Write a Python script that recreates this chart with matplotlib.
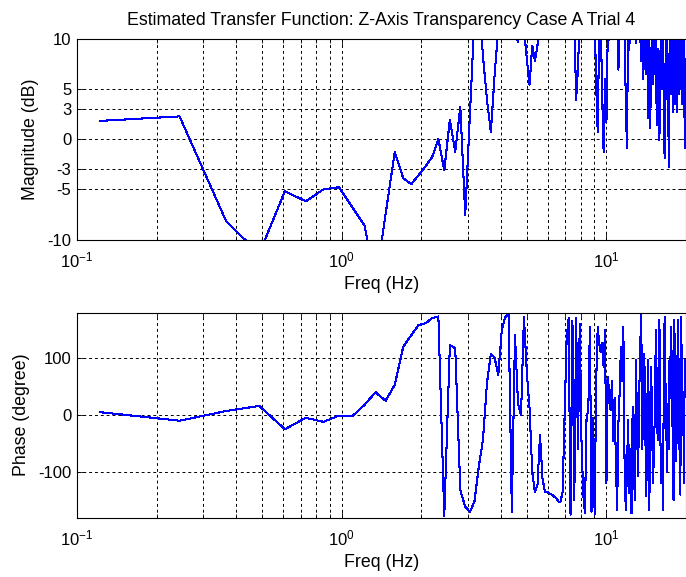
import numpy as np
import matplotlib
matplotlib.use("Agg")
import matplotlib.pyplot as plt
from matplotlib.ticker import FixedLocator, LogLocator, NullFormatter

plt.rcParams['font.family'] = ['Liberation Sans', 'DejaVu Sans']
plt.rcParams['mathtext.fontset'] = 'custom'
plt.rcParams['mathtext.rm'] = 'Liberation Sans'
plt.rcParams['mathtext.it'] = 'Liberation Sans'

# FFT bin spacing (Hz) and bin indices 1..163
freq_step = 0.12207
bin_index = np.arange(1, 164)

magnitude_db = [
    1.8, 2.25, -8.2, -11.4, -5.2, -6.2, -5.0, -4.8, -6.8, -8.6,
    -14.5, -7.5, -1.3, -3.9, -4.5, -3.6, -2.7, -1.8, 0.0, -3.1,
    1.9, -1.3, 3.2, -7.6, 2.5, 12, 14, 8.3, 3.9, 0.7,
    6.4, 11, 13, 15, 12, 14, 11, 9.6, 12, 11,
    8.0, 5.4, 9.3, 7.8, 9.3, 12, 14, 16, 13, 15,
    17, 14, 12, 15, 13, 16, 14, 12, 15, 13,
    11, 12, 3.9, 7.0, 12, 14, 13, 15, 12, 14,
    16, 13, 11, 12, 5.4, 0.7, 11, 12, 4.4, -1.3,
    6, 1.7, 11, 9.8, 13, 12, 14, 11, 13, 12,
    6.9, 11, 13, 12, 14, 11, 4.0, -0.9, 11, 8.9,
    12, 11, 13, 10.5, 12, 9.5, 12, 11, 13, 10.4,
    7.8, 12, 6, 11, 12, 6.5, 11, 2.1, 10.5, 1.1,
    8, 11, 5.5, 12, 6.5, 11, 1.4, 9, 4.5, -0.1,
    8, 11, 5, 12, 3.5, -1.9, 7, 12, 4, 8.5,
    -2.8, 6, 11, 4.5, 12, 2.7, 7.5, 11, 3.5, 12,
    2.7, 7, 11, 4.5, 12, 5, 11, 3.5, 12, 5,
    11, -0.9, 8,
]

phase_deg = [
    5, -10, 7, 16, -25, -5, -12, -1, -2, 18,
    40, 25, 53, 120, 140, 158, 161, 170, 173, -178,
    123, 117, -132, -161, -170, -152, -91, -44, 56, 108,
    100, 70, 150, 172, 178, -170, 140, 20, 0, 172,
    76, 12, -100, -135, -123, -35, -111, -135, -135, -138,
    -140, -143, -146, -152, -152, -135, 0, 135, 170, -175,
    165, -150, 170, -60, 160, -45, -140, -172, 0, 5,
    155, -170, -5, -175, 60, 155, 126, 110, 126, 85,
    150, -120, 67, 38, 9, 60, -45, 30, -80, -167,
    -15, 40, 120, 60, 155, -85, -167, -100, -9, -137,
    -60, -173, 15, -90, -150, 97, -20, -108, 30, 120,
    178, -60, 26, 108, -30, -143, 20, 97, -167, -40,
    85, -20, -120, -60, 9, 150, 60, -44, 80, 167,
    -30, -120, -60, -167, 40, 172, 60, -26, -100, 20,
    -60, 102, 30, 155, 50, -50, -150, 167, 60, -80,
    -44, 90, 167, 20, -73, -140, 172, 80, -30, 9,
    -120, 97, 40,
]

title_text = "Estimated Transfer Function: Z-Axis Transparency Case A Trial 4"
mag_yticks = [-10, -5, -3, 0, 3, 5, 10]
phase_yticks = [-100, 0, 100]

freqs = bin_index * freq_step

fig = plt.figure(figsize=(6.86, 5.77), dpi=100)
W, H = 686, 577
ax1 = fig.add_axes([77 / W, 1 - 239.5 / H, 609 / W, 201 / H])
ax2 = fig.add_axes([77 / W, 1 - 517.5 / H, 609 / W, 205 / H])

line_color = (0, 0, 1)
FS = 12
LFS = 12.8

def style(ax):
    ax.set_xscale('log')
    ax.set_xlim(0.1, 20)
    ax.xaxis.set_major_locator(FixedLocator([0.1, 1, 10]))
    ax.xaxis.set_minor_locator(LogLocator(base=10, subs=np.arange(2, 10), numticks=20))
    ax.xaxis.set_minor_formatter(NullFormatter())
    ax.tick_params(which='both', direction='in', top=True, right=True,
                   labelsize=FS, colors='black', width=0.6)
    ax.tick_params(which='major', length=5)
    ax.tick_params(which='minor', length=3)
    ax.tick_params(axis='x', which='major', pad=8)
    ax.tick_params(axis='y', which='major', pad=4)
    ax.grid(True, which='both', axis='x', color='black', linestyle=(0, (3, 3)), linewidth=0.7)
    ax.grid(True, which='major', axis='y', color='black', linestyle=(0, (3, 3)), linewidth=0.7)
    for s in ax.spines.values():
        s.set_linewidth(0.8)
    ax.set_xticklabels([r'$\mathregular{10^{-1}}$', r'$\mathregular{10^{0}}$', r'$\mathregular{10^{1}}$'])
    ax.set_xlabel('Freq (Hz)', fontsize=LFS, labelpad=4)

ax1.plot(freqs, magnitude_db, color=line_color, linewidth=0.75, antialiased=False)
style(ax1)
ax1.set_ylim(-10, 10)
ax1.set_yticks(mag_yticks)
ax1.set_yticklabels([str(v) for v in mag_yticks])
ax1.set_ylabel('Magnitude (dB)', fontsize=LFS, labelpad=6)
ax1.set_title(title_text, fontsize=LFS, pad=10)

ax2.plot(freqs, phase_deg, color=line_color, linewidth=0.75, antialiased=False)
style(ax2)
ax2.set_ylim(-180, 180)
ax2.set_yticks(phase_yticks)
ax2.set_yticklabels([str(v) for v in phase_yticks])
ax2.set_ylabel('Phase (degree)', fontsize=LFS, labelpad=6)

fig.savefig('out.png', dpi=100)
